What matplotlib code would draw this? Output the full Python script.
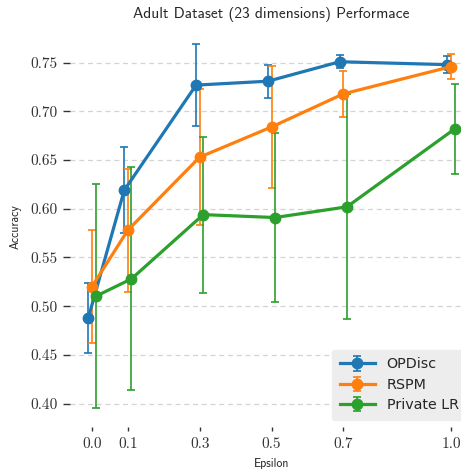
import matplotlib
matplotlib.use("Agg")
import matplotlib.pyplot as plt
import numpy as np

# ---- data ----
epsilons = [0.0, 0.1, 0.3, 0.5, 0.7, 1.0]
xtick_labels = ["0.0", "0.1", "0.3", "0.5", "0.7", "1.0"]
yticks = [0.40, 0.45, 0.50, 0.55, 0.60, 0.65, 0.70, 0.75]
ytick_labels = ["0.40", "0.45", "0.50", "0.55", "0.60", "0.65", "0.70", "0.75"]

series_names = ["OPDisc", "RSPM", "Private LR"]
opdisc_mean = [0.488, 0.619, 0.727, 0.731, 0.751, 0.748]
opdisc_err = [0.036, 0.044, 0.042, 0.017, 0.0065, 0.0085]
rspm_mean = [0.520, 0.578, 0.653, 0.684, 0.718, 0.746]
rspm_err = [0.058, 0.063, 0.070, 0.063, 0.0235, 0.0125]
plr_mean = [0.510, 0.528, 0.594, 0.591, 0.602, 0.682]
plr_err = [0.115, 0.1145, 0.080, 0.087, 0.1155, 0.0463]

colors = ["#1f77b4", "#ff7f0e", "#2ca02c"]
dodge = [-0.01, 0.0, 0.01]

means = [opdisc_mean, rspm_mean, plr_mean]
errs = [opdisc_err, rspm_err, plr_err]

fig = plt.figure(figsize=(4.61, 4.69), dpi=100)
ax = fig.add_axes([70 / 461, 1 - 426.6 / 469, 403 / 461, 400.6 / 469])

for name, m, e, c, d in zip(series_names, means, errs, colors, dodge):
    x = np.array(epsilons) + d
    ax.errorbar(x, m, yerr=e, color=c, ecolor=c, lw=2.3, marker="o", ms=7.5,
                elinewidth=1.2, capsize=3, capthick=1.2, label=name)

for s in ax.spines.values():
    s.set_visible(False)

ax.set_xticks(epsilons)
ax.set_xticklabels(xtick_labels, fontfamily="cmr10", fontsize=11, color="#333333")
ax.set_yticks(yticks)
ax.set_yticklabels(ytick_labels, fontfamily="cmr10", fontsize=11, color="#333333")
ax.tick_params(axis="y", length=5, width=1, color="#333333", pad=4)
ax.tick_params(axis="x", length=3, width=1, color="#333333", pad=5)

ax.yaxis.grid(True, linestyle=(0, (4, 3)), color="#d3d3d3", lw=0.9)
ax.set_axisbelow(True)

ax.set_title("Adult Dataset (23 dimensions) Performace", fontfamily="cmss10",
             fontsize=11.1, color="#262626", pad=6)
ax.set_xlabel("Epsilon", fontfamily="cmss10", fontsize=8.5, color="#262626", labelpad=5)
ax.set_ylabel("Accuracy", fontfamily="cmss10", fontsize=8.5, color="#262626", labelpad=6)

leg = ax.legend(loc="lower right", fontsize=10.3, frameon=True, facecolor="#ededed",
                edgecolor="#ededed", framealpha=1.0, labelspacing=0.45,
                borderpad=0.55, handlelength=2.4, handletextpad=0.85,
                borderaxespad=0.45)
for t in leg.get_texts():
    t.set_color("#262626")

fig.savefig("out.png", dpi=100)
